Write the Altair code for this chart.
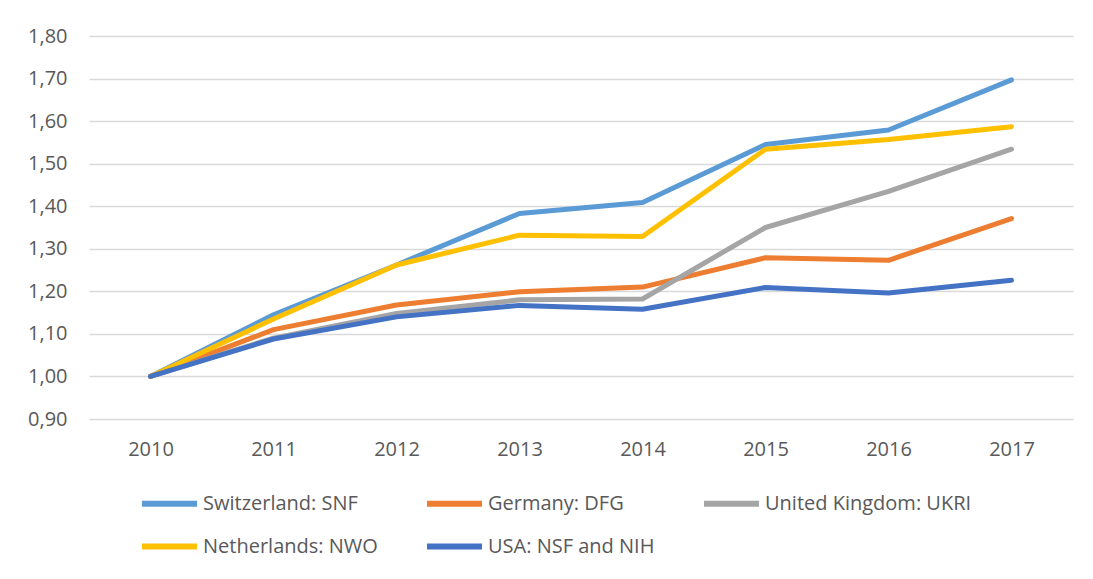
import altair as alt
import pandas as pd

years = ["2010", "2011", "2012", "2013", "2014", "2015", "2016", "2017"]
series_names = ["Switzerland: SNF", "Germany: DFG", "United Kingdom: UKRI",
                "Netherlands: NWO", "USA: NSF and NIH"]
snf = [1.00, 1.145, 1.262, 1.383, 1.409, 1.545, 1.579, 1.697]
dfg = [1.00, 1.110, 1.168, 1.199, 1.210, 1.279, 1.273, 1.371]
ukri = [1.00, 1.090, 1.148, 1.180, 1.182, 1.350, 1.435, 1.534]
nwo = [1.00, 1.135, 1.262, 1.332, 1.329, 1.534, 1.557, 1.587]
usa = [1.00, 1.088, 1.140, 1.167, 1.158, 1.209, 1.196, 1.226]
colors = ["#5B9BD5", "#ED7D31", "#A5A5A5", "#FFC000", "#4472C4"]

rows = []
for i, (name, vals) in enumerate(zip(series_names, [snf, dfg, ukri, nwo, usa])):
    for y, v in zip(years, vals):
        rows.append({"year": y, "value": v, "series": name, "ord": i})
df = pd.DataFrame(rows)

FONT = "Open Sans"
chart = alt.Chart(df).mark_line(strokeWidth=5, strokeCap="round", strokeJoin="round").encode(
    x=alt.X("year:O", sort=years, title=None,
            scale=alt.Scale(type="point", padding=0.5),
            axis=alt.Axis(labelAngle=0, ticks=False, domain=False, grid=False,
                          labelPadding=20, labelFontSize=20, labelColor="#595959",
                          labelFont=FONT)),
    y=alt.Y("value:Q", title=None,
            scale=alt.Scale(domain=[0.9, 1.8], nice=False, zero=False),
            axis=alt.Axis(values=[0.9, 1.0, 1.1, 1.2, 1.3, 1.4, 1.5, 1.6, 1.7, 1.8],
                          labelExpr="replace(format(datum.value, '.2f'), '.', ',')",
                          ticks=False, domain=False, grid=True, gridColor="#D9D9D9",
                          gridWidth=1.5, labelPadding=22, labelFontSize=20,
                          labelColor="#595959", labelFont=FONT)),
    color=alt.Color("series:N", sort=series_names,
                    scale=alt.Scale(domain=series_names, range=colors),
                    legend=alt.Legend(title=None, orient="none", legendX=50, legendY=437,
                                      direction="horizontal", columns=3,
                                      symbolType="stroke", symbolSize=3025,
                                      symbolStrokeWidth=6, labelOffset=3,
                                      columnPadding=37, rowPadding=-16,
                                      labelFontSize=20, labelColor="#595959",
                                      labelFont=FONT, labelLimit=400)),
    order=alt.Order("ord:Q"),
).properties(
    width=984, height=383,
    autosize=alt.AutoSizeParams(type="none"),
    padding={"left": 81, "top": 28, "right": 12, "bottom": 152},
).configure_view(stroke=None)

chart.save("out.html", embed_options={"renderer": "svg", "actions": False})
